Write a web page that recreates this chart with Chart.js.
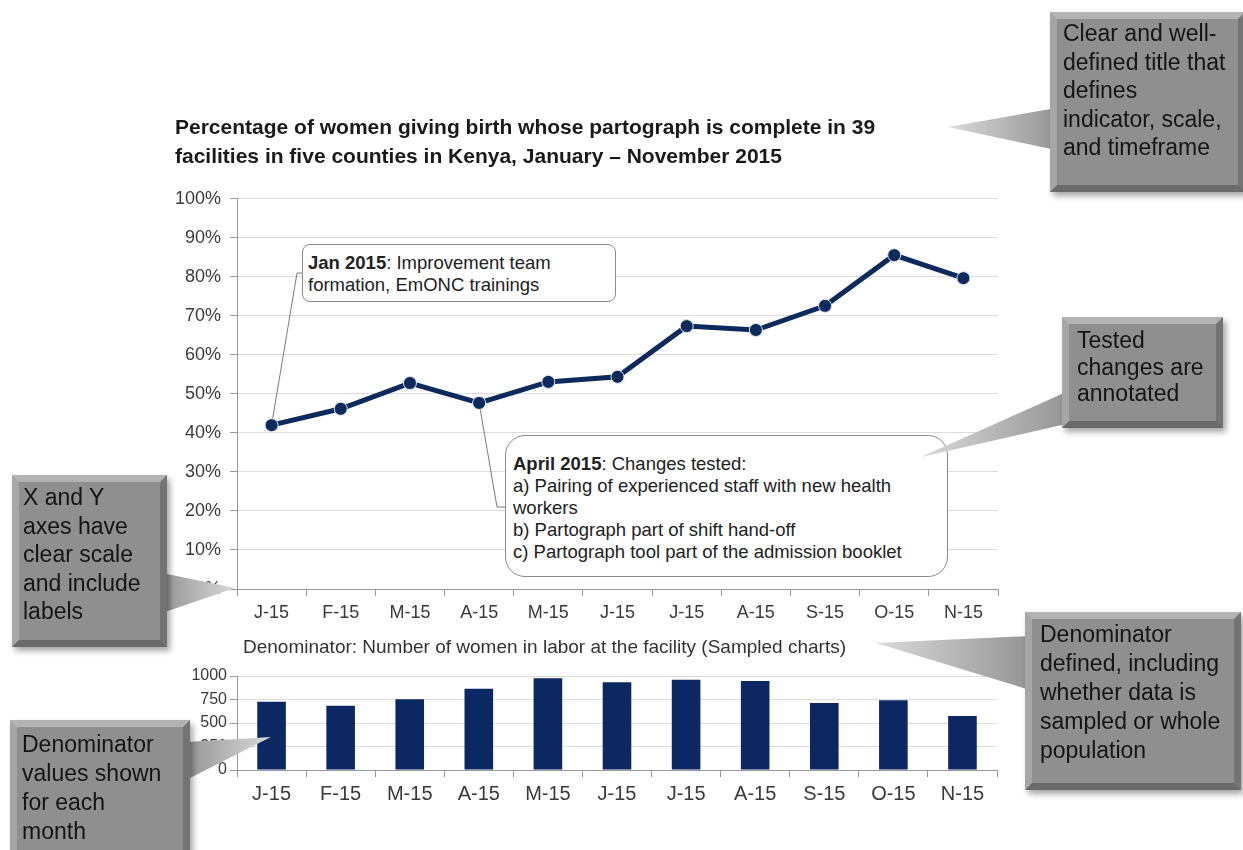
<!DOCTYPE html>
<html>
<head>
<meta charset="utf-8">
<script src="https://cdn.jsdelivr.net/npm/chart.js@4.4.0/dist/chart.umd.min.js"></script>
<style>
  body { margin: 0; width: 1243px; height: 850px; background: #fff; position: relative; overflow: hidden; font-family: "Liberation Sans", Arial, sans-serif; }
  canvas { position: absolute; }
  .note { position: absolute; box-sizing: border-box; background: #fff; border: 1px solid #8a8a8a; font-size: 18.5px; line-height: 22px; color: #222; z-index: 2; white-space: nowrap; }
  .callout { position: absolute; box-sizing: border-box; background: #8f8f8f; border: 7px solid; border-color: #b3b3b3 #747474 #6a6a6a #a6a6a6; color: #141414; font-size: 23px; box-shadow: 3px 4px 6px rgba(0,0,0,0.35); z-index: 4; white-space: nowrap; }
  svg { position: absolute; left: 0; top: 0; z-index: 3; }
</style>
</head>
<body>
<canvas id="lineChart" width="870" height="525" style="left:150px;top:100px"></canvas>
<canvas id="barChart" width="870" height="190" style="left:150px;top:630px"></canvas>

<div class="note" style="left:302px;top:244px;width:314px;height:58px;border-radius:8px;padding:7px 0 0 5px">
  <b>Jan 2015</b>: Improvement team<br>formation, EmONC trainings
</div>
<div class="note" style="left:505px;top:435px;width:443px;height:142px;border-radius:20px;padding:17px 0 0 7px">
  <b>April 2015</b>: Changes tested:<br>a) Pairing of experienced staff with new health<br>workers<br>b) Partograph part of shift hand-off<br>c) Partograph tool part of the admission booklet
</div>

<svg width="1243" height="850">
  <defs>
    <linearGradient id="gl" x1="0" y1="0" x2="1" y2="0">
      <stop offset="0" stop-color="#dadada"/><stop offset="1" stop-color="#959595"/>
    </linearGradient>
    <linearGradient id="gr" x1="0" y1="0" x2="1" y2="0">
      <stop offset="0" stop-color="#959595"/><stop offset="1" stop-color="#dadada"/>
    </linearGradient>
  </defs>
  <polygon points="948,127 1056,108 1056,150" fill="url(#gl)"/>
  <polygon points="921,457 1066,392 1066,424" fill="url(#gl)"/>
  <polygon points="235,588 162,573 162,613" fill="url(#gr)"/>
  <polygon points="271,737 186,742 186,780" fill="url(#gr)"/>
  <polygon points="876,643 1030,636 1030,690" fill="url(#gl)"/>
</svg>

<div class="callout" style="left:1050px;top:12px;width:195px;height:180px;padding:0 0 0 6px;line-height:28.5px">Clear and well-<br>defined title that<br>defines<br>indicator, scale,<br>and timeframe</div>
<div class="callout" style="left:1062px;top:317px;width:161px;height:111px;padding:3px 0 0 8px;line-height:26.5px">Tested<br>changes are<br>annotated</div>
<div class="callout" style="left:12px;top:475px;width:155px;height:172px;padding:1px 0 0 4px;line-height:28.5px">X and Y<br>axes have<br>clear scale<br>and include<br>labels</div>
<div class="callout" style="left:10px;top:720px;width:180px;height:140px;padding:3px 0 0 5px;line-height:29px">Denominator<br>values shown<br>for each<br>month</div>
<div class="callout" style="left:1025px;top:612px;width:216px;height:178px;padding:1px 0 0 8px;line-height:29px">Denominator<br>defined, including<br>whether data is<br>sampled or whole<br>population</div>

<script>
// months Jan - Nov 2015
const months = ['J-15', 'F-15', 'M-15', 'A-15', 'M-15', 'J-15', 'J-15', 'A-15', 'S-15', 'O-15', 'N-15'];
// % of women whose partograph is complete
const pctComplete = [42.0, 46.2, 52.8, 47.7, 53.1, 54.4, 67.4, 66.4, 72.6, 85.6, 79.7];
// denominator: women in labor (sampled charts)
const womenSampled = [727, 684, 752, 865, 975, 933, 961, 947, 713, 741, 574];

const titleLines = [
	'Percentage of women giving birth whose partograph is complete in 39',
	'facilities in five counties in Kenya, January \u2013 November 2015',
];
const denomTitle = 'Denominator: Number of women in labor at the facility (Sampled charts)';

const navy = '#0c2a5c';
const axisGrey = '#9a9a9a';
const labelGrey = '#3a3a3a';

Chart.defaults.font.family = '"Liberation Sans", Arial, sans-serif';

// leader lines from a data point to its note box (page coords of the elbow)
const leaders = [
	{ index: 0, elbowX: 297, elbowY: 273, boxX: 302 },
	{ index: 3, elbowX: 497, elbowY: 507, boxX: 505 },
];
const lineOffset = { x: 150, y: 100 };

const leaderPlugin = {
	id: 'leaders',
	beforeDatasetsDraw(chart) {
		const ctx = chart.ctx;
		const meta = chart.getDatasetMeta(0);
		ctx.save();
		ctx.strokeStyle = '#7a7a7a';
		ctx.lineWidth = 1;
		for (const l of leaders) {
			const pt = meta.data[l.index];
			ctx.beginPath();
			ctx.moveTo(pt.x, pt.y);
			ctx.lineTo(l.elbowX - lineOffset.x, l.elbowY - lineOffset.y);
			ctx.lineTo(l.boxX - lineOffset.x, l.elbowY - lineOffset.y);
			ctx.stroke();
		}
		ctx.restore();
	},
};

const subtitlePlugin = {
	id: 'denomTitle',
	afterDraw(chart) {
		const ctx = chart.ctx;
		ctx.save();
		ctx.font = '19px "Liberation Sans", Arial, sans-serif';
		ctx.fillStyle = '#333';
		ctx.textAlign = 'left';
		ctx.textBaseline = 'middle';
		ctx.fillText(denomTitle, chart.chartArea.left + 6, chart.chartArea.top - 28);
		ctx.restore();
	},
};

const createLineChart = function () {
	new Chart(document.getElementById('lineChart'), {
		type: 'line',
		data: {
			labels: months,
			datasets: [
				{
					data: pctComplete,
					borderColor: navy,
					backgroundColor: navy,
					borderWidth: 5,
					pointRadius: 6.5,
					pointBackgroundColor: navy,
					pointBorderColor: '#dfe5f0',
					pointBorderWidth: 1,
					tension: 0,
				},
			],
		},
		options: {
			responsive: false,
			animation: false,
			layout: { padding: { left: 25, right: 22, top: 14, bottom: 0 } },
			plugins: {
				legend: { display: false },
				tooltip: { enabled: false },
				title: {
					display: true,
					text: titleLines,
					align: 'start',
					color: '#1a1a1a',
					font: { size: 21, weight: 'bold', lineHeight: 1.38 },
					padding: { top: 0, bottom: 27 },
				},
			},
			scales: {
				x: {
					offset: true,
					grid: { offset: true, drawOnChartArea: false, tickLength: 7, color: axisGrey },
					border: { color: axisGrey },
					ticks: { color: labelGrey, font: { size: 18 }, padding: 6, maxRotation: 0, autoSkip: false },
					afterFit(s) { s.height = 36; },
				},
				y: {
					min: 0,
					max: 100,
					ticks: { stepSize: 10, callback: (v) => v + '%', color: labelGrey, font: { size: 18 }, padding: 9 },
					grid: { color: '#dcdcdc', tickColor: axisGrey, tickLength: 7 },
					border: { color: axisGrey },
					afterFit(s) { s.width = 62; },
				},
			},
		},
		plugins: [leaderPlugin],
	});
};

const createBarChart = function () {
	new Chart(document.getElementById('barChart'), {
		type: 'bar',
		data: {
			labels: months,
			datasets: [
				{
					data: womenSampled,
					backgroundColor: '#0d2762',
					barPercentage: 0.9,
					categoryPercentage: 0.46,
				},
			],
		},
		options: {
			responsive: false,
			animation: false,
			layout: { padding: { left: 25, right: 23, top: 46, bottom: 10 } },
			plugins: { legend: { display: false }, tooltip: { enabled: false } },
			scales: {
				x: {
					grid: { drawOnChartArea: false, tickLength: 7, color: axisGrey },
					border: { color: axisGrey },
					ticks: { color: labelGrey, font: { size: 20 }, padding: 5, maxRotation: 0, autoSkip: false },
					afterFit(s) { s.height = 40; },
				},
				y: {
					min: 0,
					max: 1000,
					ticks: { stepSize: 250, callback: (v) => String(v), color: labelGrey, font: { size: 16 }, padding: 3 },
					grid: { color: '#dcdcdc', tickColor: axisGrey, tickLength: 7 },
					border: { color: axisGrey },
					afterFit(s) { s.width = 62; },
				},
			},
		},
		plugins: [subtitlePlugin],
	});
};

const init = function () {
	createLineChart();
	createBarChart();
};
document.addEventListener('DOMContentLoaded', init);
</script>
</body>
</html>
